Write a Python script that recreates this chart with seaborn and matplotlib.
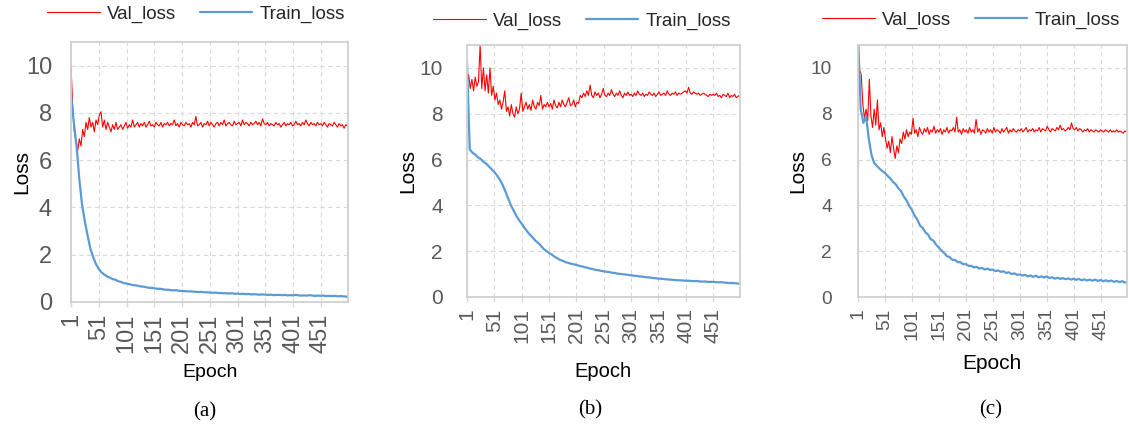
import matplotlib
matplotlib.use("Agg")
import matplotlib.pyplot as plt
import numpy as np
import pandas as pd
import seaborn as sns

# ---------------------------------------------------------------- data
# validation losses are sampled every 3 epochs (1, 4, ..., 499) plus epoch 500,
# training losses every 5 epochs (1, 6, ..., 496) plus epoch 500
VAL_EPOCHS = list(range(1, 500, 3)) + [500]
TRAIN_EPOCHS = list(range(1, 500, 5)) + [500]
XTICKS = [1, 51, 101, 151, 201, 251, 301, 351, 401, 451]
YTICKS = [0, 2, 4, 6, 8, 10]

VAL_A = [
    10.0, 8.3, 7.2, 6.8, 6.4, 6.9, 6.6, 7.3, 7.0, 7.6,
    7.3, 7.8, 7.4, 7.6, 7.2, 7.7, 7.5, 7.9, 8.05, 7.4,
    7.7, 7.3, 7.6, 7.4, 7.2, 7.5, 7.3, 7.6, 7.3, 7.4,
    7.5, 7.3, 7.45, 7.6, 7.35, 7.5, 7.4, 7.7, 7.4, 7.5,
    7.6, 7.4, 7.55, 7.45, 7.6, 7.4, 7.5, 7.65, 7.45, 7.5,
    7.4, 7.6, 7.5, 7.45, 7.6, 7.4, 7.55, 7.5, 7.6, 7.45,
    7.55, 7.5, 7.7, 7.45, 7.55, 7.4, 7.6, 7.5, 7.45, 7.6,
    7.5, 7.55, 7.4, 7.6, 7.5, 7.85, 7.45, 7.5, 7.6, 7.4,
    7.55, 7.5, 7.65, 7.45, 7.6, 7.5, 7.4, 7.55, 7.6, 7.45,
    7.6, 7.5, 7.7, 7.45, 7.55, 7.6, 7.5, 7.45, 7.65, 7.5,
    7.55, 7.6, 7.45, 7.7, 7.5, 7.6, 7.55, 7.45, 7.6, 7.5,
    7.55, 7.65, 7.5, 7.6, 7.45, 7.75, 7.55, 7.5, 7.6, 7.45,
    7.55, 7.5, 7.45, 7.6, 7.5, 7.55, 7.4, 7.5, 7.6, 7.45,
    7.55, 7.5, 7.6, 7.45, 7.5, 7.65, 7.5, 7.55, 7.45, 7.6,
    7.5, 7.7, 7.55, 7.45, 7.6, 7.5, 7.55, 7.45, 7.6, 7.5,
    7.55, 7.45, 7.6, 7.5, 7.4, 7.55, 7.5, 7.45, 7.6, 7.5,
    7.4, 7.55, 7.45, 7.5, 7.35, 7.5, 7.45,
    7.55,
]
TRAIN_A = [
    8.8, 7.6, 6.6, 5.2, 4.1, 3.4, 2.8, 2.25, 1.9, 1.6,
    1.4, 1.25, 1.16, 1.08, 1.03, 0.97, 0.94, 0.88, 0.85, 0.8,
    0.78, 0.76, 0.72, 0.71, 0.69, 0.66, 0.65, 0.63, 0.6, 0.6,
    0.58, 0.56, 0.56, 0.54, 0.52, 0.52, 0.5, 0.49, 0.5, 0.47,
    0.47, 0.46, 0.45, 0.45, 0.44, 0.43, 0.42, 0.43, 0.41, 0.41,
    0.4, 0.39, 0.4, 0.38, 0.38, 0.37, 0.37, 0.36, 0.37, 0.35,
    0.35, 0.34, 0.35, 0.33, 0.34, 0.32, 0.33, 0.32, 0.31, 0.32,
    0.31, 0.3, 0.31, 0.29, 0.3, 0.3, 0.29, 0.3, 0.28, 0.29,
    0.28, 0.3, 0.28, 0.27, 0.28, 0.27, 0.29, 0.27, 0.26, 0.27,
    0.26, 0.27, 0.25, 0.26, 0.25, 0.26, 0.24, 0.25, 0.24, 0.23,
    0.22,
]

VAL_B = [
    9.3, 9.7, 9.1, 9.5, 9.0, 9.6, 9.2, 9.4, 11.0, 9.1,
    10.0, 9.0, 9.7, 8.9, 10.0, 8.8, 9.2, 8.6, 8.9, 8.4,
    8.6, 8.2, 8.5, 9.0, 8.1, 8.3, 7.9, 8.4, 8.0, 7.85,
    8.3, 8.0, 8.2, 8.9, 8.1, 8.3, 8.5, 8.2, 8.4, 8.15,
    8.6, 8.3, 8.2, 8.5, 8.35, 8.8, 8.2, 8.4, 8.3, 8.5,
    8.3, 8.45, 8.2, 8.6, 8.35, 8.25, 8.5, 8.3, 8.6, 8.4,
    8.3, 8.5, 8.7, 8.35, 8.4, 8.6, 8.3, 8.5, 8.45, 8.8,
    8.7, 8.9, 8.75, 9.0, 8.8, 9.25, 8.8, 8.7, 8.95, 8.8,
    8.9, 8.7, 8.85, 9.1, 8.8, 8.75, 8.9, 8.8, 9.05, 8.85,
    8.75, 8.9, 8.8, 9.0, 8.8, 8.7, 8.9, 8.8, 8.95, 8.8,
    8.85, 8.75, 8.9, 8.8, 9.0, 8.85, 8.8, 8.9, 8.75, 8.85,
    8.8, 8.95, 8.85, 8.8, 8.9, 8.75, 8.85, 8.95, 8.8, 8.85,
    8.9, 8.8, 9.0, 8.85, 8.8, 8.9, 8.85, 8.95, 8.8, 8.9,
    8.85, 8.9, 8.95, 9.0, 8.9, 9.15, 8.9, 8.85, 8.95, 8.9,
    8.85, 8.9, 8.8, 8.85, 8.9, 8.85, 8.8, 8.75, 8.85, 8.8,
    8.85, 8.8, 8.9, 8.75, 8.8, 8.7, 8.85, 8.8, 8.75, 8.9,
    8.7, 8.8, 8.75, 8.85, 8.7, 8.75, 8.8,
    8.7,
]
TRAIN_B = [
    10.2, 6.45, 6.3, 6.22, 6.1, 6.02, 5.9, 5.82, 5.7, 5.58,
    5.45, 5.3, 5.12, 4.9, 4.62, 4.32, 4.02, 3.78, 3.55, 3.36,
    3.2, 3.02, 2.86, 2.72, 2.6, 2.46, 2.36, 2.24, 2.1, 2.01,
    1.92, 1.85, 1.76, 1.69, 1.62, 1.58, 1.52, 1.49, 1.45, 1.43,
    1.4, 1.36, 1.34, 1.3, 1.28, 1.24, 1.22, 1.18, 1.17, 1.14,
    1.12, 1.1, 1.09, 1.06, 1.05, 1.02, 1.01, 0.99, 0.98, 0.96,
    0.95, 0.93, 0.92, 0.9, 0.89, 0.87, 0.86, 0.85, 0.83, 0.82,
    0.8, 0.8, 0.78, 0.77, 0.76, 0.75, 0.74, 0.73, 0.73, 0.72,
    0.71, 0.71, 0.7, 0.69, 0.7, 0.68, 0.67, 0.68, 0.66, 0.66,
    0.66, 0.65, 0.64, 0.65, 0.63, 0.62, 0.61, 0.61, 0.6, 0.59,
    0.58,
]

VAL_C = [
    10.0, 9.9, 9.7, 8.4, 7.8, 8.2, 7.7, 9.5, 7.9, 7.4,
    8.2, 7.5, 8.6, 7.3, 7.6, 7.0, 7.4, 6.9, 6.5, 6.8,
    6.3, 7.0, 6.5, 6.05, 6.6, 6.3, 6.9, 6.7, 7.2, 6.9,
    7.3, 7.0, 7.2, 7.1, 7.8, 7.15, 7.3, 7.0, 7.4, 7.2,
    7.1, 7.35, 7.2, 7.4, 7.1, 7.3, 7.2, 7.45, 7.15, 7.3,
    7.2, 7.35, 7.1, 7.3, 7.2, 7.4, 7.15, 7.3, 7.25, 7.4,
    7.2, 7.85, 7.2, 7.3, 7.1, 7.35, 7.2, 7.3, 7.15, 7.4,
    7.2, 7.3, 7.15, 7.75, 7.2, 7.35, 7.1, 7.3, 7.25, 7.15,
    7.35, 7.2, 7.3, 7.15, 7.4, 7.2, 7.3, 7.25, 7.15, 7.35,
    7.2, 7.3, 7.4, 7.15, 7.3, 7.2, 7.35, 7.25, 7.2, 7.3,
    7.25, 7.35, 7.2, 7.3, 7.4, 7.2, 7.3, 7.25, 7.35, 7.2,
    7.3, 7.25, 7.4, 7.2, 7.35, 7.3, 7.25, 7.45, 7.3, 7.2,
    7.35, 7.3, 7.25, 7.4, 7.3, 7.5, 7.3, 7.35, 7.25, 7.3,
    7.4, 7.3, 7.6, 7.35, 7.3, 7.4, 7.25, 7.35, 7.3, 7.2,
    7.3, 7.25, 7.35, 7.2, 7.3, 7.25, 7.2, 7.3, 7.25, 7.2,
    7.3, 7.25, 7.2, 7.3, 7.25, 7.2, 7.3, 7.2, 7.25, 7.2,
    7.3, 7.2, 7.25, 7.2, 7.15, 7.25, 7.2,
    7.2,
]
TRAIN_C = [
    11.5, 8.2, 7.6, 7.9, 6.9, 6.2, 5.85, 5.72, 5.6, 5.5,
    5.42, 5.28, 5.18, 5.02, 4.92, 4.74, 4.62, 4.38, 4.22, 3.98,
    3.8, 3.55, 3.38, 3.12, 3.02, 2.82, 2.72, 2.52, 2.46, 2.28,
    2.16, 2.02, 1.92, 1.78, 1.74, 1.62, 1.62, 1.52, 1.52, 1.43,
    1.44, 1.36, 1.36, 1.29, 1.32, 1.24, 1.27, 1.2, 1.24, 1.18,
    1.2, 1.13, 1.16, 1.1, 1.12, 1.05, 1.08, 1.0, 1.03, 0.97,
    0.98, 0.94, 0.97, 0.9, 0.94, 0.88, 0.93, 0.86, 0.9, 0.85,
    0.9, 0.83, 0.86, 0.8, 0.84, 0.79, 0.82, 0.78, 0.81, 0.76,
    0.8, 0.75, 0.79, 0.73, 0.77, 0.72, 0.76, 0.71, 0.76, 0.7,
    0.74, 0.69, 0.73, 0.68, 0.72, 0.66, 0.7, 0.65, 0.69, 0.63,
    0.64,
]

# ---------------------------------------------------------------- style
W, H = 1129, 428
RED = "#ff0000"
BLUE = "#5b9bd5"
GRID = "#d9d9d9"
SPINE = "#d0d0d0"
TICK_COLOR = "#595959"

sns.set_theme(style="white")
plt.rcParams["font.family"] = ["Liberation Sans", "DejaVu Sans"]


def fx(x):
    return x / W


def fy(y):
    return 1 - y / H


# per panel layout, in pixels
PANELS = [
    dict(tag="(a)", val=VAL_A, train=TRAIN_A, box=(71, 42, 348, 302),
         tick=17, ypad=19, legend=(196, 14), ylab_x=31, xlab=(210, 364),
         xlab_size=14, caption=(205, 412)),
    dict(tag="(b)", val=VAL_B, train=TRAIN_B, box=(467, 45, 740, 297),
         tick=15, ypad=24, legend=(582, 21), ylab_x=417, xlab=(603, 362),
         xlab_size=14.5, caption=(590, 410)),
    dict(tag="(c)", val=VAL_C, train=TRAIN_C, box=(858, 45, 1127, 297),
         tick=13.8, ypad=26, legend=(971, 20), ylab_x=807, xlab=(992, 354),
         xlab_size=15, caption=(991, 410)),
]

fig = plt.figure(figsize=(W / 100, H / 100), dpi=100)
fig.patch.set_facecolor("white")

for p in PANELS:
    l, t, r, b = p["box"]
    ax = fig.add_axes([fx(l), fy(b), (r - l) / W, (b - t) / H])
    val_df = pd.DataFrame({"Epoch": VAL_EPOCHS, "Loss": p["val"]})
    train_df = pd.DataFrame({"Epoch": TRAIN_EPOCHS, "Loss": p["train"]})

    sns.lineplot(data=val_df, x="Epoch", y="Loss", ax=ax, color=RED,
                 linewidth=0.8, label="Val_loss")
    sns.lineplot(data=train_df, x="Epoch", y="Loss", ax=ax, color=BLUE,
                 linewidth=1.6, label="Train_loss")

    ax.set_xlim(1, 500)
    ax.set_ylim(0, 11)
    ax.set_xticks(XTICKS)
    ax.set_xticklabels([str(v) for v in XTICKS])
    ax.set_yticks(YTICKS)
    ax.set_yticklabels([str(v) for v in YTICKS])

    ax.tick_params(axis="x", labelrotation=90, length=3.6, width=1.0,
                   color=GRID, labelsize=p["tick"], labelcolor=TICK_COLOR,
                   pad=4.5, bottom=True)
    ax.tick_params(axis="y", length=0, labelsize=p["tick"],
                   labelcolor=TICK_COLOR, pad=p["ypad"] * 0.72, left=True)

    ax.set_axisbelow(True)
    ax.grid(True, linestyle=(0, (4, 3)), color=GRID, linewidth=0.8)
    for side in ("left", "right", "top", "bottom"):
        ax.spines[side].set_visible(True)
        ax.spines[side].set_color(SPINE)
        ax.spines[side].set_linewidth(1.3)

    ax.set_xlabel("Epoch", fontsize=p["xlab_size"], color="black")
    ax.xaxis.set_label_coords(fx(p["xlab"][0]), fy(p["xlab"][1]),
                              transform=fig.transFigure)
    ax.set_ylabel("Loss", fontsize=15, color="black")
    ax.yaxis.set_label_coords(fx(p["ylab_x"]), fy((t + b) / 2),
                              transform=fig.transFigure)

    ax.legend(loc="center", bbox_to_anchor=(fx(p["legend"][0]), fy(p["legend"][1])),
              bbox_transform=fig.transFigure, ncol=2, frameon=False,
              fontsize=13.5, handlelength=2.8, handletextpad=0.4,
              columnspacing=1.25, borderpad=0, borderaxespad=0)

    fig.text(fx(p["caption"][0]), fy(p["caption"][1]), p["tag"],
             ha="center", va="center", fontsize=15,
             family=["Liberation Serif", "DejaVu Serif"], color="black")

fig.savefig("out.png", dpi=100, facecolor="white")
